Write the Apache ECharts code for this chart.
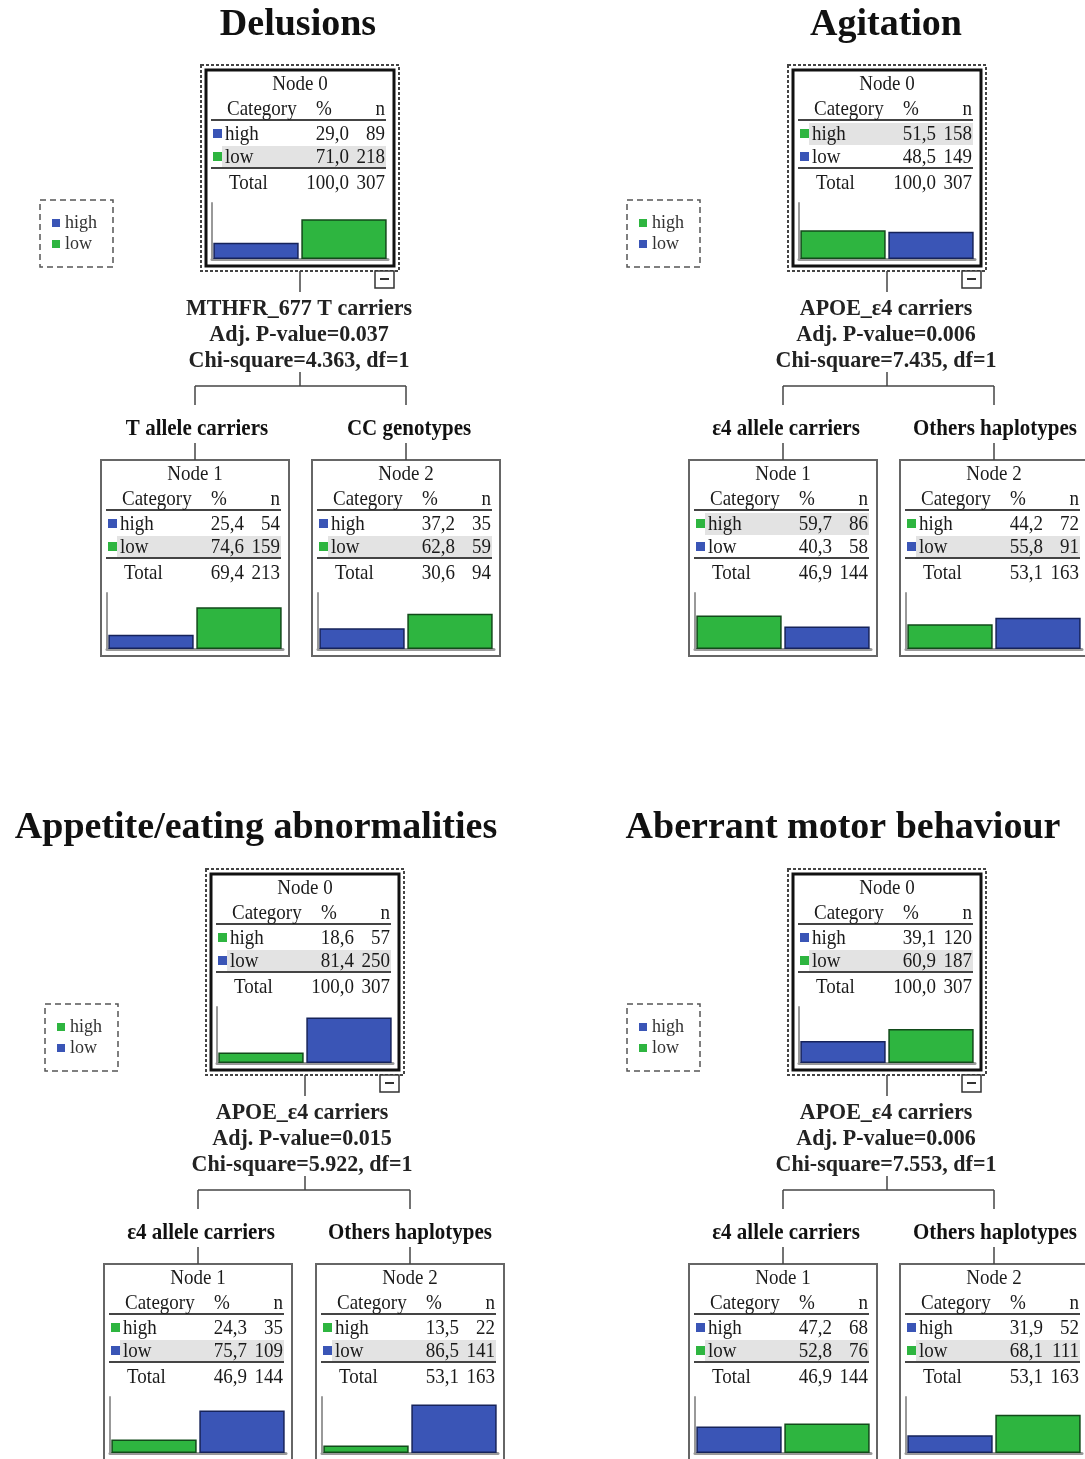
<!DOCTYPE html>
<html>
<head>
<meta charset="utf-8">
<script src="https://cdn.jsdelivr.net/npm/echarts@6/dist/echarts.min.js"></script>
<style>
  html, body { margin: 0; padding: 0; background: #fff; }
  #main { width: 1085px; height: 1459px; }
</style>
</head>
<body>
<div id="main"></div>
<script>
const titles = ['Delusions', 'Agitation', 'Appetite/eating abnormalities', 'Aberrant motor behaviour'];
const splitVars = ['MTHFR_677 T carriers', 'APOE_\u03b54 carriers', 'APOE_\u03b54 carriers', 'APOE_\u03b54 carriers'];
const adjP = ['0.037', '0.006', '0.015', '0.006'];
const chiSq = ['4.363', '7.435', '5.922', '7.553'];
const branchLabels = [
  ['T allele carriers', 'CC genotypes'],
  ['\u03b54 allele carriers', 'Others haplotypes'],
  ['\u03b54 allele carriers', 'Others haplotypes'],
  ['\u03b54 allele carriers', 'Others haplotypes']
];
const categories = ['high', 'low'];
// per tree: [node0, node1, node2]
const highPct = [[29.0, 25.4, 37.2], [51.5, 59.7, 44.2], [18.6, 24.3, 13.5], [39.1, 47.2, 31.9]];
const lowPct  = [[71.0, 74.6, 62.8], [48.5, 40.3, 55.8], [81.4, 75.7, 86.5], [60.9, 52.8, 68.1]];
const highN   = [[89, 54, 35], [158, 86, 72], [57, 35, 22], [120, 68, 52]];
const lowN    = [[218, 159, 59], [149, 58, 91], [250, 109, 141], [187, 76, 111]];
const totalPct = [[100.0, 69.4, 30.6], [100.0, 46.9, 53.1], [100.0, 46.9, 53.1], [100.0, 46.9, 53.1]];
const totalN   = [[307, 213, 94], [307, 144, 163], [307, 144, 163], [307, 144, 163]];

// colours
const BLUE = '#3a55b6', GREEN = '#2eb540';
const BLUE_EDGE = '#16235a', GREEN_EDGE = '#124a1a';
const highColors = [BLUE, GREEN, GREEN, BLUE];
const lowColors  = [GREEN, BLUE, BLUE, GREEN];
const edgeOf = c => (c === BLUE ? BLUE_EDGE : GREEN_EDGE);

// layout of each tree on the page
const layout = [
  { titleX: 298, titleY: 25,  rootL: 206, rootT: 70,  splitX: 299, labelX: [197, 409], childL: [101, 312] },
  { titleX: 886, titleY: 25,  rootL: 793, rootT: 70,  splitX: 886, labelX: [786, 995], childL: [689, 900] },
  { titleX: 256, titleY: 828, rootL: 211, rootT: 874, splitX: 302, labelX: [201, 410], childL: [104, 316] },
  { titleX: 843, titleY: 828, rootL: 793, rootT: 874, splitX: 886, labelX: [786, 995], childL: [689, 900] }
];

const SERIF = '"Liberation Serif", "DejaVu Serif", serif';
const fmt = v => v.toFixed(1).replace('.', ',');

const graphics = [];
const grids = [], xAxes = [], yAxes = [], series = [];

// sy stretches the text vertically a little (the scanned tables use a tall, narrow face)
function text(x, y, str, font, align, fill, sy) {
  graphics.push({
    type: 'text', x: x, y: y, silent: true, z: 10, scaleY: sy || 1,
    style: { text: str, font: font, fill: fill || '#1a1a1a', align: align || 'center', verticalAlign: 'middle' }
  });
}
function line(x1, y1, x2, y2, color, width) {
  graphics.push({
    type: 'line', silent: true, z: 5,
    shape: { x1: x1, y1: y1, x2: x2, y2: y2 },
    style: { stroke: color || '#333', lineWidth: width || 1.5 }
  });
}
function rect(x, y, w, h, style, z) {
  graphics.push({ type: 'rect', silent: true, z: z || 1, shape: { x: x, y: y, width: w, height: h }, style: style });
}

function drawNode(t, k, L, T, root) {
  const w = 188, h = 196;
  const tableFont = '19px ' + SERIF;
  const tt = (x, y, s, a) => text(x, y, s, tableFont, a, '#1a1a1a', 1.12);
  if (root) {
    rect(L - 5, T - 5, w + 10, h + 10, { fill: 'none', stroke: '#444', lineWidth: 2, lineDash: [3, 2] }, 2);
    rect(L, T, w, h, { fill: 'none', stroke: '#111', lineWidth: 3 }, 3);
    rect(L + w - 19, T + h + 5, 19, 17, { fill: '#fff', stroke: '#333', lineWidth: 1.5 }, 4);
    line(L + w - 14, T + h + 13, L + w - 5, T + h + 13, '#333', 2);
  } else {
    rect(L, T, w, h, { fill: 'none', stroke: '#666', lineWidth: 2 }, 3);
  }
  const pcts = [highPct[t][k], lowPct[t][k]];
  const ns = [highN[t][k], lowN[t][k]];
  const cols = [highColors[t], lowColors[t]];
  const modal = pcts[0] >= pcts[1] ? 0 : 1;
  const rowY = [T + 64, T + 87];

  tt(L + 94, T + 14, 'Node ' + k, 'center');
  tt(L + 21, T + 39, 'Category', 'left');
  tt(L + 118, T + 39, '%', 'center');
  tt(L + 179, T + 39, 'n', 'right');
  line(L + 5, T + 50, L + 180, T + 50, '#444', 2);
  rect(L + 16, rowY[modal] - 11, 164, 22, { fill: '#e3e3e3' }, 1);
  categories.forEach(function (c, i) {
    rect(L + 7, rowY[i] - 5, 9, 9, { fill: cols[i] }, 4);
    tt(L + 19, rowY[i], c, 'left');
    tt(L + 143, rowY[i], fmt(pcts[i]), 'right');
    tt(L + 179, rowY[i], String(ns[i]), 'right');
  });
  line(L + 5, T + 98, L + 180, T + 98, '#444', 2);
  tt(L + 23, T + 113, 'Total', 'left');
  tt(L + 143, T + 113, fmt(totalPct[t][k]), 'right');
  tt(L + 179, T + 113, String(totalN[t][k]), 'right');

  const g = grids.length;
  grids.push({ left: L + 6, top: T + 133, width: w - 12, height: 56 });
  xAxes.push({
    type: 'category', gridIndex: g, data: categories,
    axisLine: { lineStyle: { color: '#999', width: 3 } },
    axisTick: { show: false }, axisLabel: { show: false }
  });
  yAxes.push({
    type: 'value', gridIndex: g, min: 0, max: 100,
    axisLine: { show: true, lineStyle: { color: '#999', width: 2 } },
    axisTick: { show: false }, axisLabel: { show: false }, splitLine: { show: false }
  });
  series.push({
    type: 'bar', xAxisIndex: g, yAxisIndex: g, barCategoryGap: '3%', silent: true,
    data: pcts.map(function (v, i) {
      return { value: v, itemStyle: { color: cols[i], borderColor: edgeOf(cols[i]), borderWidth: 1.5 } };
    })
  });
}

layout.forEach(function (p, t) {
  const L = p.rootL, T = p.rootT, h = 196;
  const cx = L + 94;
  text(p.titleX, p.titleY, titles[t], 'bold 38px ' + SERIF, 'center', '#111');

  // legend
  const lx = L - 166, ly = T + 130;
  rect(lx, ly, 73, 67, { fill: 'none', stroke: '#555', lineWidth: 1.5, lineDash: [6, 4] }, 2);
  categories.forEach(function (c, i) {
    const col = i === 0 ? highColors[t] : lowColors[t];
    rect(lx + 12, ly + 19 + i * 21, 8, 8, { fill: col }, 4);
    text(lx + 25, ly + 23 + i * 21, c, '18px ' + SERIF, 'left', '#333');
  });

  drawNode(t, 0, L, T, true);

  // split description
  line(cx, T + h + 5, cx, T + 222, '#444', 1.5);
  const splitFont = 'bold 22px ' + SERIF;
  text(p.splitX, T + 239, splitVars[t], splitFont, 'center', '#222', 1.05);
  text(p.splitX, T + 265, 'Adj. P-value=' + adjP[t], splitFont, 'center', '#222', 1.05);
  text(p.splitX, T + 291, 'Chi-square=' + chiSq[t] + ', df=1', splitFont, 'center', '#222', 1.05);

  // bracket to children
  const c1 = p.childL[0] + 94, c2 = p.childL[1] + 94;
  line(cx, T + 302, cx, T + 316, '#444', 1.5);
  line(c1, T + 316, c2, T + 316, '#444', 1.5);
  line(c1, T + 316, c1, T + 335, '#444', 1.5);
  line(c2, T + 316, c2, T + 335, '#444', 1.5);
  [0, 1].forEach(function (j) {
    text(p.labelX[j], T + 359, branchLabels[t][j], 'bold 21px ' + SERIF, 'center', '#111', 1.08);
    const c = p.childL[j] + 94;
    line(c, T + 373, c, T + 390, '#444', 1.5);
    drawNode(t, j + 1, p.childL[j], T + 390, false);
  });
});

const chart = echarts.init(document.getElementById('main'), null, { renderer: 'canvas' });
chart.setOption({
  backgroundColor: '#fff',
  animation: false,
  grid: grids,
  xAxis: xAxes,
  yAxis: yAxes,
  series: series,
  graphic: { elements: graphics }
});
</script>
</body>
</html>
